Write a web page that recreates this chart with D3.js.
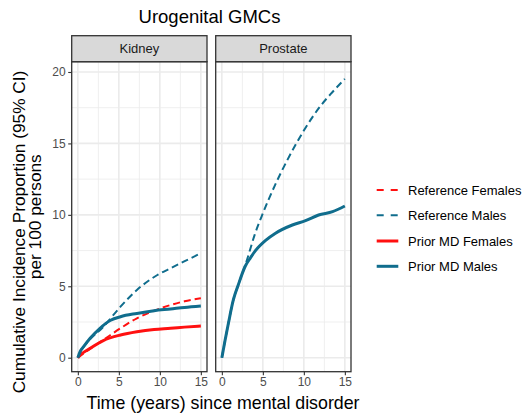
<!DOCTYPE html>
<html><head><meta charset="utf-8">
<script src="https://cdn.jsdelivr.net/npm/d3@7"></script>
<style>body{margin:0;background:#fff;} svg{display:block;font-family:"Liberation Sans",Arial,sans-serif;}</style>
</head><body>
<svg id="chart" width="524" height="416"></svg>
<script>
// ---------- data ----------
const panels = ["Kidney", "Prostate"];
const seriesNames = ["Reference Females", "Reference Males", "Prior MD Females", "Prior MD Males"];
const seriesColors = ["#ff1010", "#106d8d", "#ff1010", "#106d8d"];
const seriesDashed = [true, true, false, false];

const kidneyRefFemalesT = [0, 1.5, 3.1, 5.2, 7.2, 9.3, 11.3, 13, 15];
const kidneyRefFemalesV = [0, 0.62, 1.24, 2.06, 2.76, 3.29, 3.69, 3.95, 4.16];
const kidneyRefMalesT = [0, 0.7, 1.5, 3.0, 5.2, 7.2, 9.7, 11.3, 12.9, 15];
const kidneyRefMalesV = [0, 0.75, 1.3, 2.1, 3.57, 4.74, 5.79, 6.26, 6.72, 7.31];
const kidneyPriorFemalesT = [0, 0.3, 1.5, 3.1, 5.2, 7.2, 9.3, 11.3, 13, 15];
const kidneyPriorFemalesV = [0, 0.19, 0.66, 1.2, 1.59, 1.82, 1.98, 2.06, 2.14, 2.22];
const kidneyPriorMalesT = [0, 0.3, 0.7, 1.5, 2.7, 4.0, 5.2, 7.2, 9.3, 11.3, 13, 15];
const kidneyPriorMalesV = [0, 0.45, 0.77, 1.36, 2.06, 2.62, 2.87, 3.1, 3.29, 3.41, 3.52, 3.62];

const prostateRefMalesT = [0, 0.4, 0.8, 1.4, 2.0, 3.06, 4.0, 5.0, 6.5, 8.0, 10.0, 12.0, 13.5, 15];
const prostateRefMalesV = [0, 1.24, 2.41, 4.04, 5.09, 6.84, 8.6, 10.1, 12.1, 13.85, 15.9, 17.6, 18.6, 19.52];
const prostatePriorMalesT = [0, 0.4, 0.8, 1.4, 2.0, 2.85, 3.5, 4.1, 5.3, 6.5, 8.6, 10.2, 11.8, 13.5, 15];
const prostatePriorMalesV = [0, 1.24, 2.41, 4.04, 5.09, 6.4, 7.0, 7.5, 8.2, 8.7, 9.29, 9.59, 9.99, 10.22, 10.62];

const xTicks = [0, 5, 10, 15];
const yTicks = [0, 5, 10, 15, 20];
const xMinor = [2.5, 7.5, 12.5];
const yMinor = [2.5, 7.5, 12.5, 17.5];

const zip = (t, v) => t.map((d, i) => ({t: d, v: v[i]}));
const panelSeries = {
  Kidney: [
    {s: 0, pts: zip(kidneyRefFemalesT, kidneyRefFemalesV)},
    {s: 1, pts: zip(kidneyRefMalesT, kidneyRefMalesV)},
    {s: 2, pts: zip(kidneyPriorFemalesT, kidneyPriorFemalesV)},
    {s: 3, pts: zip(kidneyPriorMalesT, kidneyPriorMalesV)}
  ],
  Prostate: [
    {s: 1, pts: zip(prostateRefMalesT, prostateRefMalesV)},
    {s: 3, pts: zip(prostatePriorMalesT, prostatePriorMalesV)}
  ]
};

// ---------- layout ----------
const svg = d3.select("#chart");
const panelLeft = [71.7, 215.7], panelW = 135.3;
const panelTop = 61.7, panelBottom = 371.7, stripTop = 35.7;

const y = d3.scaleLinear().domain([-0.98, 20.72]).range([panelBottom, panelTop]);

svg.append("text").attr("x", 209.5).attr("y", 23.3).attr("text-anchor", "middle")
  .attr("font-size", 18.5).attr("fill", "#000").text("Urogenital GMCs");

panels.forEach((p, pi) => {
  const x0 = panelLeft[pi];
  const x = d3.scaleLinear().domain([-0.75, 15.75]).range([x0, x0 + panelW]);
  const g = svg.append("g");
  const clipId = "clip" + pi;
  svg.append("clipPath").attr("id", clipId).append("rect")
    .attr("x", x0).attr("y", panelTop).attr("width", panelW).attr("height", panelBottom - panelTop);
  // grid
  g.selectAll(".xmin").data(xMinor).join("line").attr("x1", d => x(d)).attr("x2", d => x(d))
    .attr("y1", panelTop).attr("y2", panelBottom).attr("stroke", "#ebebeb").attr("stroke-width", 0.8);
  g.selectAll(".ymin").data(yMinor).join("line").attr("y1", d => y(d)).attr("y2", d => y(d))
    .attr("x1", x0).attr("x2", x0 + panelW).attr("stroke", "#ebebeb").attr("stroke-width", 0.8);
  g.selectAll(".xmaj").data(xTicks).join("line").attr("x1", d => x(d)).attr("x2", d => x(d))
    .attr("y1", panelTop).attr("y2", panelBottom).attr("stroke", "#ebebeb").attr("stroke-width", 1.6);
  g.selectAll(".ymaj").data(yTicks).join("line").attr("y1", d => y(d)).attr("y2", d => y(d))
    .attr("x1", x0).attr("x2", x0 + panelW).attr("stroke", "#ebebeb").attr("stroke-width", 1.6);
  // lines
  const line = d3.line().x(d => x(d.t)).y(d => y(d.v)).curve(d3.curveMonotoneX);
  const lg = g.append("g").attr("clip-path", `url(#${clipId})`);
  panelSeries[p].forEach(ser => {
    lg.append("path").datum(ser.pts).attr("d", line).attr("fill", "none")
      .attr("stroke", seriesColors[ser.s])
      .attr("stroke-width", seriesDashed[ser.s] ? 2 : 3)
      .attr("stroke-dasharray", seriesDashed[ser.s] ? "7,4" : null)
      .attr("stroke-linecap", "butt");
  });
  // border
  g.append("rect").attr("x", x0).attr("y", panelTop).attr("width", panelW).attr("height", panelBottom - panelTop)
    .attr("fill", "none").attr("stroke", "#333333").attr("stroke-width", 1.3);
  // strip
  g.append("rect").attr("x", x0).attr("y", stripTop).attr("width", panelW).attr("height", panelTop - stripTop)
    .attr("fill", "#d9d9d9").attr("stroke", "#333333").attr("stroke-width", 1.3);
  g.append("text").attr("x", x0 + panelW / 2).attr("y", 53.3).attr("text-anchor", "middle")
    .attr("font-size", 13).attr("fill", "#1a1a1a").text(p);
  // x axis
  const xa = svg.append("g").attr("transform", `translate(0,${panelBottom})`)
    .call(d3.axisBottom(x).tickValues(xTicks).tickSize(3.5).tickPadding(2.5).tickFormat(d3.format("d")));
  xa.select(".domain").remove();
  xa.selectAll("line").attr("stroke", "#333333").attr("stroke-width", 1.1);
  xa.selectAll("text").attr("font-size", 12).attr("fill", "#4d4d4d")
    .attr("font-family", "Liberation Sans, Arial, sans-serif");
  if (pi === 0) {
    const ya = svg.append("g").attr("transform", `translate(${x0},0)`)
      .call(d3.axisLeft(y).tickValues(yTicks).tickSize(3.5).tickPadding(2.5));
    ya.select(".domain").remove();
    ya.selectAll("line").attr("stroke", "#333333").attr("stroke-width", 1.1);
    ya.selectAll("text").attr("font-size", 12).attr("fill", "#4d4d4d")
      .attr("font-family", "Liberation Sans, Arial, sans-serif");
  }
});

// axis titles
svg.append("text").attr("x", 223).attr("y", 408.5).attr("text-anchor", "middle")
  .attr("font-size", 17.8).attr("fill", "#000").text("Time (years) since mental disorder");
svg.append("text").attr("transform", "translate(24.8,232) rotate(-90)").attr("text-anchor", "middle")
  .attr("font-size", 17.3).attr("fill", "#000").text("Cumulative Incidence Proportion (95% CI)");
svg.append("text").attr("transform", "translate(40.8,216.7) rotate(-90)").attr("text-anchor", "middle")
  .attr("font-size", 17.3).attr("fill", "#000").text("per 100 persons");

// legend
const legY = [190, 215.3, 241, 266.3];
const leg = svg.append("g");
seriesNames.forEach((n, i) => {
  leg.append("line").attr("x1", 376.7).attr("x2", 398.3).attr("y1", legY[i]).attr("y2", legY[i])
    .attr("stroke", seriesColors[i]).attr("stroke-width", seriesDashed[i] ? 2 : 3)
    .attr("stroke-dasharray", seriesDashed[i] ? "7,7" : null);
  leg.append("text").attr("x", 408).attr("y", legY[i]).attr("dy", "0.36em")
    .attr("font-size", 13).attr("fill", "#000").text(n);
});
</script>
</body></html>
